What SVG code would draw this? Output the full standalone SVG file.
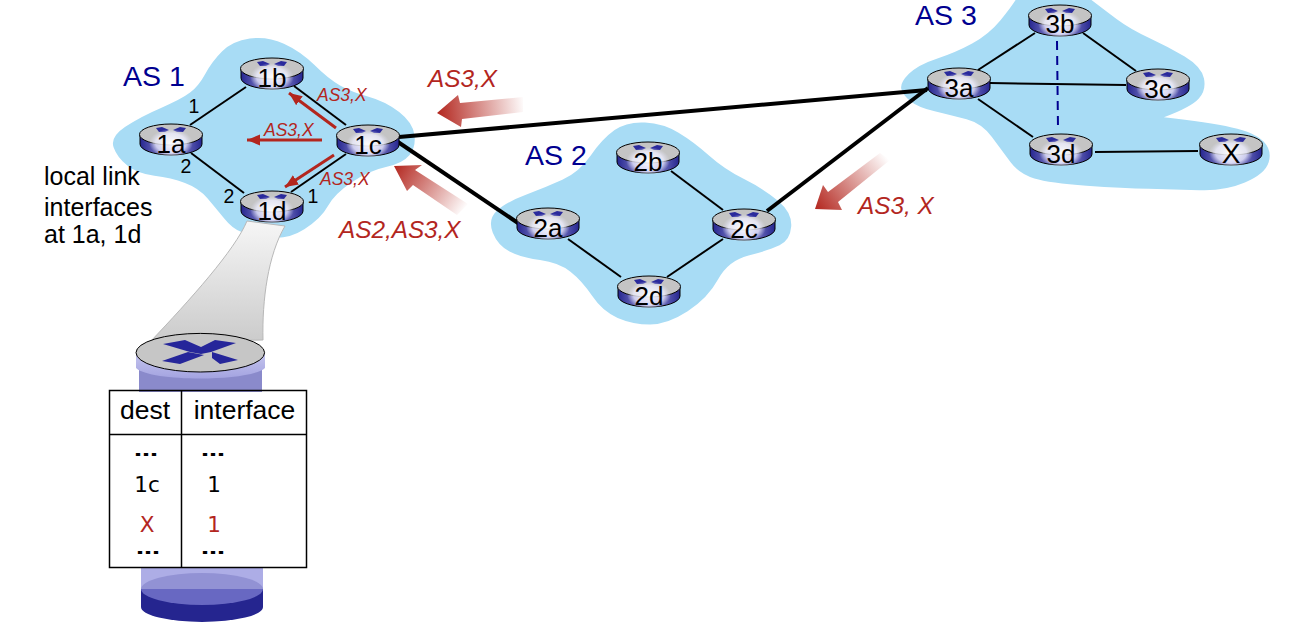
<svg xmlns="http://www.w3.org/2000/svg" width="1296" height="638" viewBox="0 0 1296 638">
<style>
text{font-family:"Liberation Sans",Arial,sans-serif;fill:#000}
.cloud{fill:#a8dcf5}
.lnk{stroke:#000;stroke-width:2;fill:none}
.thick{stroke:#000;stroke-width:4;fill:none}
.rlabel{font-size:26px;text-anchor:middle}
.as{font-size:28.5px;fill:#000090}
.red{fill:#b3261e;font-style:italic;font-size:24.3px}
.reds{fill:#b3261e;font-style:italic;font-size:17.5px}
.num{font-size:19.5px;text-anchor:middle}
.redline{stroke:#b3261e;stroke-width:3;fill:none;marker-end:url(#rh)}
.cell{font-family:"DejaVu Sans",sans-serif;font-size:21.5px;text-anchor:middle}
.dots{font-family:"DejaVu Sans",sans-serif;font-size:16px;font-weight:bold;text-anchor:middle}
.hdr{font-size:26.5px;text-anchor:middle}
.tbl{stroke:#000;stroke-width:1.5;fill:none}
</style>
<defs>
<marker id="rh" markerUnits="userSpaceOnUse" markerWidth="14" markerHeight="12" refX="13" refY="6" orient="auto"><path d="M0,0.5 L13,6 L0,11.5 Z" fill="#b3261e"/></marker>
<linearGradient id="band" x1="0" y1="0" x2="1" y2="0"><stop offset="0" stop-color="#25258f"/><stop offset=".5" stop-color="#a5a5de"/><stop offset="1" stop-color="#25258f"/></linearGradient>
<radialGradient id="glow"><stop offset="0" stop-color="#fff" stop-opacity=".95"/><stop offset=".7" stop-color="#eef" stop-opacity=".75"/><stop offset="1" stop-color="#dde" stop-opacity="0"/></radialGradient>
<linearGradient id="fun" x1="0" y1="0" x2="0" y2="1"><stop offset="0" stop-color="#f6f6f6"/><stop offset="1" stop-color="#cbcbcb"/></linearGradient>
<linearGradient id="ga" gradientUnits="userSpaceOnUse" x1="437" y1="113" x2="525" y2="104"><stop offset="0" stop-color="#b3261e"/><stop offset="1" stop-color="#b3261e" stop-opacity="0"/></linearGradient>
<linearGradient id="gb" gradientUnits="userSpaceOnUse" x1="394" y1="166" x2="465" y2="210"><stop offset="0" stop-color="#b3261e"/><stop offset="1" stop-color="#b3261e" stop-opacity="0"/></linearGradient>
<linearGradient id="gc" gradientUnits="userSpaceOnUse" x1="815" y1="209" x2="886" y2="156"><stop offset="0" stop-color="#b3261e"/><stop offset="1" stop-color="#b3261e" stop-opacity="0"/></linearGradient>
<linearGradient id="cyl" x1="0" y1="0" x2="0" y2="1"><stop offset="0" stop-color="#c5c5ee"/><stop offset="1" stop-color="#a3a3e0"/></linearGradient>
<symbol id="router" overflow="visible" viewBox="-33 -1 66 34" width="66" height="34">
<path d="M-31,11 V20 A31,11 0 0 0 31,20 V11 Z" fill="url(#band)" stroke="#000" stroke-width="1"/>
<ellipse cx="0" cy="10.500" rx="31.500" ry="10.500" fill="#c4c4c4" stroke="#000" stroke-width="1"/>
<path d="M-15,4 L-9,3 L-2,6 L-6,8 L-12,8 Z M15,4 L9,3 L2,6 L6,8 L12,8 Z" fill="#2a2a9c"/>
<ellipse cx="0" cy="19" rx="22" ry="14" fill="url(#glow)"/>
</symbol>
</defs>

<path class="cloud" id="cloud-as1" transform="translate(263,138) scale(1.02) translate(-263,-138)" d="M128,127 Q143,117 163,108.5 T191.5,93.5 T206.5,75 T223,53 T250,40.5 T283.5,45.5 T313.5,66.5 T338.5,86.5 T366.5,97.5 T396.5,112.5 T411.5,135 T406.5,155 T383.5,166.5 T350,181.5 T326.5,205 T303.5,227.5 T268.5,235.5 T241.5,230 T225,217 T208.5,197 T186.5,182 T156.5,175 T130,165 T116.5,147 T128,127 Z"/>
<path class="cloud" id="cloud-as2" transform="translate(642,224) scale(1.015) translate(-642,-224)" d="M498.5,211.5 Q507,203 527,195.5 T563.5,180.5 T591.5,156.5 T615,131.5 T645,124 T678,134 T708,156.5 T743,180 T776.5,201.5 T789,226.5 T777.5,245 T747,255 T717,278.5 T687,310 T650,323 T618,316.5 T593,295 T571.5,271 T541.5,259.5 T511.5,251 T495,232.5 T498.5,211.5 Z"/>
<path class="cloud" id="cloud-as3" transform="translate(1085,90) scale(1.012) translate(-1085,-90)" d="M911,74 Q920,65 938.5,59 T973.5,44 T1001.5,21 T1018,-1.5 T1050,-10 T1090,0 T1116.5,20 T1148.5,38.5 T1183.5,57 T1202.5,78.5 T1197.5,98.5 Q1190,107 1163,117 Q1207,122 1230,127 T1261.5,141 T1266.5,161.5 T1243,181.5 T1198,189 T1148,187.5 T1086.5,184.5 T1035,177.5 T1011.5,161.5 T993,136.5 T968,119 T936.5,111 T912.5,101 T903.5,89 T911,74 Z"/>

<text class="as" x="123" y="86">AS 1</text>
<text class="as" x="525" y="165">AS 2</text>
<text class="as" x="915" y="25">AS 3</text>

<path id="zoom-funnel" d="M247,221 C235,250 190,300 150,342 L263,340 C262,300 268,255 285,226 Z" fill="url(#fun)" stroke="#b8b8b8" stroke-width="1"/>

<g id="connectors">
<line class="lnk" x1="246" y1="87" x2="190" y2="125"/>
<line class="lnk" x1="191" y1="153" x2="244" y2="193"/>
<line class="lnk" x1="294" y1="86" x2="346" y2="125"/>
<line class="lnk" x1="346" y1="154" x2="291" y2="192"/>
<line class="thick" x1="399" y1="137" x2="927" y2="90"/>
<line class="thick" x1="398" y1="142" x2="518" y2="223"/>
<line class="thick" x1="767" y1="211" x2="928" y2="88"/>
<line class="lnk" x1="671" y1="171" x2="723" y2="210"/>
<line class="lnk" x1="723" y1="239" x2="667" y2="277"/>
<line class="lnk" x1="568" y1="239" x2="621" y2="277"/>
<line class="lnk" x1="978" y1="70" x2="1035" y2="33"/>
<line class="lnk" x1="1083" y1="33" x2="1136" y2="71"/>
<line class="lnk" x1="990" y1="83" x2="1126" y2="85"/>
<line class="lnk" x1="978" y1="99" x2="1033" y2="137"/>
<line class="lnk" x1="1095" y1="152" x2="1198" y2="151"/>
<line x1="1057" y1="41" x2="1058" y2="128" stroke="#000090" stroke-width="2" stroke-dasharray="9 6"/>
<line class="redline" x1="336" y1="128" x2="289" y2="93"/>
<line class="redline" x1="322" y1="140" x2="247" y2="140"/>
<line class="redline" x1="334" y1="155" x2="285" y2="187"/>
<path d="M437,113 L458,95 L460,103 L523,97 L523,112 L462,119 L461,127 Z" fill="url(#ga)"/>
<path d="M394,166 L422,165 L415,170 L468,204 L457,215 L413,185 L407,191 Z" fill="url(#gb)"/>
<path d="M815,209 L823,185 L828,192 L880,153 L890,160 L838,202 L842,210 Z" fill="url(#gc)"/>
</g>

<g id="r1a"><use href="#router" x="138" y="123"/><text class="rlabel" x="171" y="153">1a</text></g>
<g id="r1b"><use href="#router" x="239" y="57"/><text class="rlabel" x="272" y="87">1b</text></g>
<g id="r1c"><use href="#router" x="335" y="124"/><text class="rlabel" x="368" y="154">1c</text></g>
<g id="r1d"><use href="#router" x="239" y="190"/><text class="rlabel" x="272" y="220">1d</text></g>
<g id="r2a"><use href="#router" x="515" y="207"/><text class="rlabel" x="548" y="237">2a</text></g>
<g id="r2b"><use href="#router" x="615" y="141"/><text class="rlabel" x="648" y="171">2b</text></g>
<g id="r2c"><use href="#router" x="711" y="208"/><text class="rlabel" x="744" y="238">2c</text></g>
<g id="r2d"><use href="#router" x="616" y="275"/><text class="rlabel" x="649" y="305">2d</text></g>
<g id="r3a"><use href="#router" x="926" y="67"/><text class="rlabel" x="959" y="97">3a</text></g>
<g id="r3b"><use href="#router" x="1027" y="4"/><text class="rlabel" x="1060" y="33">3b</text></g>
<g id="r3c"><use href="#router" x="1125" y="68"/><text class="rlabel" x="1158" y="98">3c</text></g>
<g id="r3d"><use href="#router" x="1028" y="133"/><text class="rlabel" x="1061" y="163">3d</text></g>
<g id="rX"><use href="#router" x="1198" y="133"/><text class="rlabel" x="1231" y="163" style="font-size:28px">X</text></g>

<g id="labels">
<text class="num" x="194" y="113">1</text>
<text class="num" x="186" y="173">2</text>
<text class="num" x="229" y="203">2</text>
<text class="num" x="313" y="203">1</text>
<text class="reds" x="317" y="101">AS3,X</text>
<text class="reds" x="264" y="136">AS3,X</text>
<text class="reds" x="320" y="185">AS3,X</text>
<text class="red" x="428" y="87">AS3,X</text>
<text class="red" x="339" y="238">AS2,AS3,X</text>
<text class="red" x="858" y="214">AS3, X</text>
<text x="44" y="185" font-size="25">local link</text>
<text x="44" y="216" font-size="25">interfaces</text>
<text x="44" y="243" font-size="25">at 1a, 1d</text>
</g>

<g id="forwarding-router">
<path d="M139,370 H262 V392 H139 Z" fill="#8a8acb"/>
<path d="M136,353 V368 C150,382 250,382 265,368 V353 Z" fill="url(#cyl)"/>
<ellipse cx="200.3" cy="352.7" rx="64.3" ry="19.3" fill="#c6c6c6" stroke="#000" stroke-width="1"/>
<path d="M163,344 L185,340 L201,347 L215,340 L236,343 L211,352 L201,354 L190,352 Z" fill="#26269a"/>
<path d="M188,352 L162,361 L180,364 L204,355 Z M212,352 L238,360 L220,364 L212,358 Z" fill="#26269a"/>
<path d="M141,567 H263 V589 H141 Z" fill="#adade6"/>
<path d="M141,589 V607 A61,15 0 0 0 263,607 V589 Z" fill="#25258f"/>
<path d="M141,589 A61,16 0 0 1 263,589 Z" fill="#9292d4"/>
<path d="M141,589 A61,16 0 0 0 263,589 Z" fill="#6868c2"/>
</g>

<g id="forwarding-table">
<rect x="109.5" y="390.5" width="197" height="177" fill="#fff" class="tbl"/>
<line class="tbl" x1="181.5" y1="390.5" x2="181.5" y2="567.5"/>
<line class="tbl" x1="109.5" y1="434.500" x2="306.500" y2="434.500"/>
<text class="hdr" x="145" y="419">dest</text>
<text class="hdr" x="244.500" y="419">interface</text>
<text class="dots" x="146" y="456" textLength="24" lengthAdjust="spacingAndGlyphs">…</text>
<text class="dots" x="213" y="456" textLength="24" lengthAdjust="spacingAndGlyphs">…</text>
<text class="cell" x="147" y="492">1c</text>
<text class="cell" x="214" y="492">1</text>
<text class="cell" x="147" y="532" style="fill:#b3261e">X</text>
<text class="cell" x="214" y="532" style="fill:#b3261e">1</text>
<text class="dots" x="148" y="554" textLength="24" lengthAdjust="spacingAndGlyphs">…</text>
<text class="dots" x="213" y="554" textLength="24" lengthAdjust="spacingAndGlyphs">…</text>
</g>
</svg>
